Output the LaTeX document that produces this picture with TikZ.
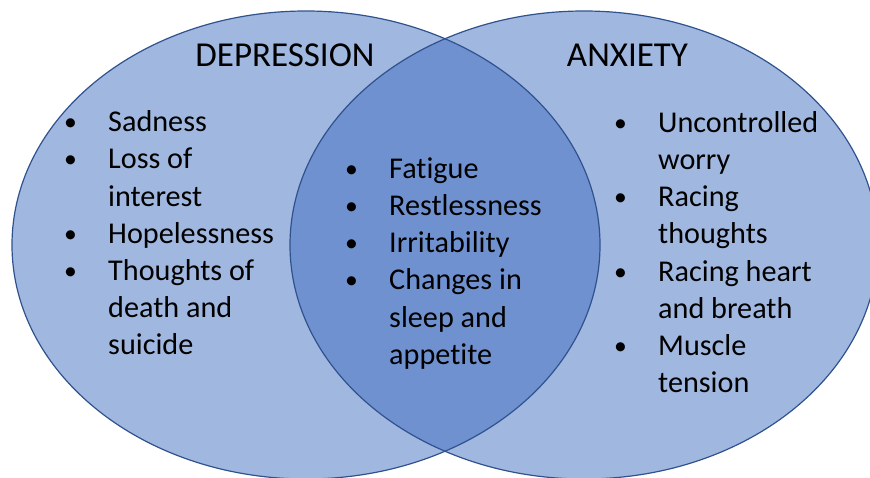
\documentclass[tikz,border=0pt]{standalone}
\usepackage{fontspec}
\setmainfont{Carlito}[Ligatures=NoCommon]
\usetikzlibrary{positioning}
\definecolor{setfill}{RGB}{160,183,224}
\definecolor{bothfill}{RGB}{112,145,208}
\definecolor{setline}{RGB}{47,82,143}
\newcommand{\bul}{\raisebox{1pt}{\scalebox{0.85}{\textbullet}}}

\begin{document}
\begin{tikzpicture}[x=1pt, y=-1pt,
    ring/.style={draw=setline, line width=1.2pt},
    head/.style={inner sep=0pt, anchor=base, font=\fontsize{35}{42}\selectfont},
    list/.style={inner sep=0pt, anchor=base west, font=\fontsize{30.2}{37.2}\selectfont}]
  \useasboundingbox (0,0) rectangle (870,478);
  \coordinate (dep) at (306,245);
  \coordinate (anx) at (584,245);
  % the two sets and their overlap
  \fill[setfill] (dep) ellipse [x radius=294, y radius=234];
  \fill[setfill] (anx) ellipse [x radius=294, y radius=234];
  \begin{scope}
    \clip (dep) ellipse [x radius=294, y radius=234];
    \fill[bothfill] (anx) ellipse [x radius=294, y radius=234];
  \end{scope}
  \draw[ring] (dep) ellipse [x radius=294, y radius=234];
  \draw[ring] (anx) ellipse [x radius=294, y radius=234];
  % titles
  \node[head] (deptitle) at (285,67) {DEPRESSION};
  \node[head] (anxtitle) at (627.5,67) {ANXIETY};
  % symptoms
  \node[list] (deplist) at (64,131.7) {\begin{tabular}[t]{@{}p{44pt}@{}l@{}}
      \bul & Sadness\\
      \bul & Loss of\\
           & interest\\
      \bul & Hopelessness\\
      \bul & Thoughts of\\
           & death and\\
           & suicide
    \end{tabular}};
  \node[list] (bothlist) at (345,178.3) {\begin{tabular}[t]{@{}p{44pt}@{}l@{}}
      \bul & Fatigue\\
      \bul & Restlessness\\
      \bul & Irritability\\
      \bul & Changes in\\
           & sleep and\\
           & appetite
    \end{tabular}};
  \node[list] (anxlist) at (614,132.3) {\begin{tabular}[t]{@{}p{44pt}@{}l@{}}
      \bul & Uncontrolled\\
           & worry\\
      \bul & Racing\\
           & thoughts\\
      \bul & Racing heart\\
           & and breath\\
      \bul & Muscle\\
           & tension
    \end{tabular}};
\end{tikzpicture}
\end{document}
